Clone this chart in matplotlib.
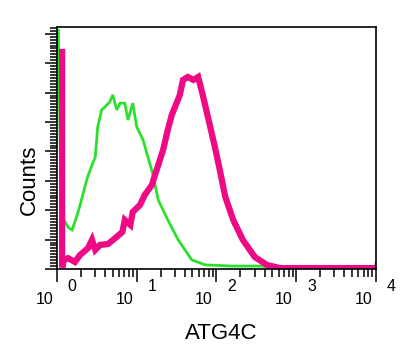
import matplotlib
matplotlib.use("Agg")
import matplotlib.pyplot as plt
from matplotlib.ticker import MultipleLocator, LogLocator, NullFormatter
import matplotlib.transforms as mtransforms

plt.rcParams['font.family'] = ['Liberation Sans', 'DejaVu Sans']

# fluorescence intensity (log scale) and counts
green_x = [1.04, 1.10, 1.20, 1.40, 1.55, 1.75, 1.95, 2.40, 2.75, 3.02, 3.24, 3.63,
           3.98, 4.57, 5.01, 5.62, 6.17, 7.08, 7.76, 8.91, 10.0, 12.0, 13.8, 15.8,
           18.6, 24.5, 33.1, 49.0, 72.4, 158, 355, 1000, 3162, 9800, 10000]
green_y = [812, 400, 170, 140, 133, 175, 218, 310, 354, 381, 483, 541,
           551, 568, 592, 541, 564, 564, 507, 564, 483, 439, 381, 326,
           235, 167, 99, 31, 14, 10, 10, 4, 3, 3, 20]

magenta_x = [1.16, 1.16, 1.22, 1.37, 1.68, 1.95, 2.45, 2.75, 3.02, 3.47, 4.37, 5.37,
             6.61, 7.08, 8.32, 8.91, 11.0, 12.6, 15.5, 18.6, 21.4, 24.5, 27.5,
             30.9, 34.7, 38.0, 43.7, 51.3, 58.9, 66.1, 77.6, 95.5, 110, 129,
             162, 214, 302, 427, 631, 3162, 10000]
magenta_y = [738, 5, 30, 37, 24, 48, 71, 99, 65, 82, 85, 105,
             126, 167, 150, 194, 218, 252, 286, 354, 405, 473, 524,
             558, 592, 643, 653, 643, 653, 600, 520, 415, 337, 245,
             167, 99, 41, 14, 3, 3, 3]

decades = [1, 10, 100, 1000, 10000]
exponents = ['0', '1', '2', '3', '4']

fig = plt.figure(figsize=(4.03, 3.5), dpi=100)
ax = fig.add_axes([0.1414, 0.2314, 0.7916, 0.6914])

ax.plot(green_x, green_y, color='#2de02d', lw=2.0, solid_joinstyle='miter')
ax.plot(magenta_x, magenta_y, color='#ee0a84', lw=4.5, solid_joinstyle='miter')

ax.set_xscale('log')
ax.set_xlim(1, 10000)
ax.set_ylim(0, 823)

ax.xaxis.set_major_locator(LogLocator(base=10, numticks=10))
ax.xaxis.set_minor_locator(LogLocator(base=10, subs=range(2, 10), numticks=10))
ax.xaxis.set_major_formatter(NullFormatter())
ax.xaxis.set_minor_formatter(NullFormatter())
ax.yaxis.set_major_locator(MultipleLocator(100))
ax.yaxis.set_minor_locator(MultipleLocator(10))
ax.yaxis.set_major_formatter(NullFormatter())

ax.tick_params(axis='x', which='major', direction='out', length=9.5, width=1.1, color='black')
ax.tick_params(axis='x', which='minor', direction='out', length=5.5, width=1.1, color='black')
ax.tick_params(axis='y', which='major', direction='out', length=8.6, width=1.1, color='black')
ax.tick_params(axis='y', which='minor', direction='out', length=5.0, width=1.1, color='black')

for sp in ax.spines.values():
    sp.set_linewidth(1.2)
    sp.set_color('black')

# "10" left of the tick, exponent right of it, like the original
trans = mtransforms.blended_transform_factory(ax.transData, ax.transAxes)
for d, e in zip(decades, exponents):
    ax.annotate('10', xy=(d, 0), xycoords=trans, xytext=(-9, -22), textcoords='offset points',
                ha='center', va='center', fontsize=11.5, annotation_clip=False)
    ax.annotate(e, xy=(d, 0), xycoords=trans, xytext=(11, -12.5), textcoords='offset points',
                ha='center', va='center', fontsize=11.5, annotation_clip=False)

fig.text(29 / 403, 1 - 180 / 350, 'Counts', rotation=90, ha='center', va='center', fontsize=16)
fig.text(221 / 403, 1 - 333.5 / 350, 'ATG4C', ha='center', va='center', fontsize=16)

fig.savefig('out.png', dpi=100)
